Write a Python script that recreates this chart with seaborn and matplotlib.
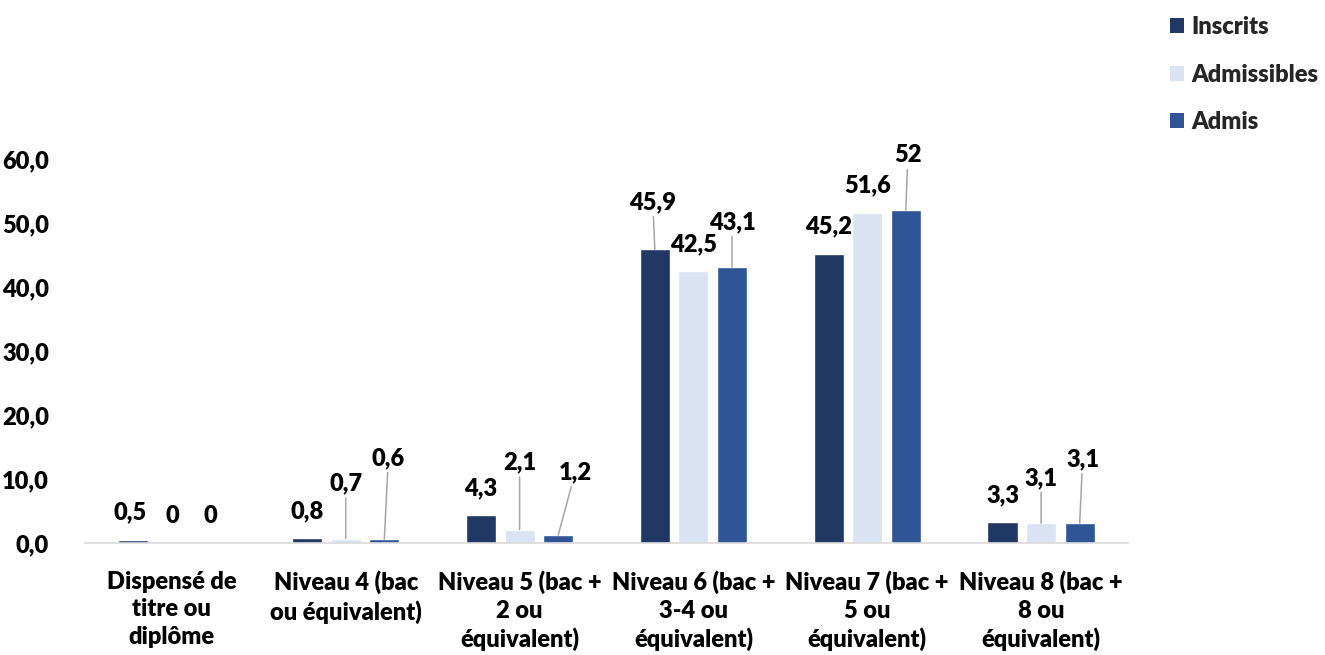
import matplotlib
matplotlib.use("Agg")
import matplotlib.pyplot as plt
from matplotlib.patches import Rectangle
import seaborn as sns
import pandas as pd

# ---- data ----
categories = [
    "Dispensé de\ntitre ou\ndiplôme",
    "Niveau 4 (bac\nou équivalent)",
    "Niveau 5 (bac +\n2 ou\néquivalent)",
    "Niveau 6 (bac +\n3-4 ou\néquivalent)",
    "Niveau 7 (bac +\n5 ou\néquivalent)",
    "Niveau 8 (bac +\n8 ou\néquivalent)",
]
series_names = ["Inscrits", "Admissibles", "Admis"]
inscrits = [0.5, 0.8, 4.3, 45.9, 45.2, 3.3]
admissibles = [0.0, 0.7, 2.1, 42.5, 51.6, 3.1]
admis = [0.0, 0.6, 1.2, 43.1, 52.0, 3.1]
y_ticks = [0, 10, 20, 30, 40, 50, 60]

colors = ["#203864", "#DAE3F3", "#2F5597"]

# label offsets in pixels (dx, dy) relative to bar top centre; leader flag
default_off = (0, 27, False)
label_offsets = {
    ("Admissibles", 1): (0, 55, True),
    ("Admis", 1): (4, 81, True),
    ("Admissibles", 2): (0, 67, True),
    ("Admis", 2): (17, 63, True),
    ("Inscrits", 3): (-2, 47, True),
    ("Admis", 3): (0, 45, True),
    ("Admis", 4): (2, 55, True),
    ("Admissibles", 5): (0, 45, True),
    ("Admis", 5): (3, 64, True),
    ("Inscrits", 0): (-3, 27, False),
}

sns.set_theme(style="white")
plt.rcParams["font.family"] = ["Lato", "DejaVu Sans"]
WEIGHT = "heavy"
plt.rcParams["font.weight"] = WEIGHT

df = pd.DataFrame({
    "cat": categories * 3,
    "serie": sum([[s] * len(categories) for s in series_names], []),
    "val": inscrits + admissibles + admis,
})

fig = plt.figure(figsize=(13.25, 6.55), dpi=100)
ax = fig.add_axes([85 / 1325, 1 - 543 / 655, 1043 / 1325, 384 / 655])

sns.barplot(data=df, x="cat", y="val", hue="serie", hue_order=series_names,
            order=categories, palette=colors, width=0.666, gap=0.22,
            saturation=1, ax=ax, legend=False, errorbar=None)

FS = 17
ax.set_ylim(0, 60)
ax.set_xlim(-0.5, len(categories) - 0.5)
ax.set_yticks(y_ticks)
ax.set_yticklabels([f"{t:.1f}".replace(".", ",") for t in y_ticks],
                   fontsize=FS, fontweight=WEIGHT, color="black")
ax.set_xticks(range(len(categories)))
ax.set_xticklabels(categories, fontsize=FS, fontweight=WEIGHT, color="black",
                   linespacing=1.3, va="top")
ax.tick_params(axis="x", length=0, pad=20)
ax.tick_params(axis="y", length=0, pad=26)
ax.set_xlabel("")
ax.set_ylabel("")
for s in ["top", "right", "left"]:
    ax.spines[s].set_visible(False)
ax.spines["bottom"].set_color("#D9D9D9")
ax.spines["bottom"].set_linewidth(1.2)

for name, cont in zip(series_names, ax.containers):
    for i, bar in enumerate(cont.patches):
        v = bar.get_height()
        x = bar.get_x() + bar.get_width() / 2
        dx, dy, leader = label_offsets.get((name, i), default_off)
        txt = f"{v:g}".replace(".", ",")
        kw = {}
        if leader:
            kw["arrowprops"] = dict(arrowstyle="-", color="#A6A6A6", lw=1.1,
                                    shrinkA=0, shrinkB=0)
        ax.annotate(txt, xy=(x, v), xytext=(dx, dy), textcoords="offset pixels",
                    ha="center", va="center", fontsize=FS, fontweight=WEIGHT,
                    color="black", annotation_clip=False, **kw)

handles = [Rectangle((0, 0), 1, 1, facecolor=c, edgecolor="none") for c in colors]
fig.legend(handles, series_names, loc="upper left",
           bbox_to_anchor=(1149 / 1325, 1 + 5 / 655), frameon=False,
           prop={"size": FS, "weight": WEIGHT}, handlelength=0.6,
           handleheight=0.6, handletextpad=0.3, labelspacing=1.08)

fig.savefig("out.png", dpi=100)
